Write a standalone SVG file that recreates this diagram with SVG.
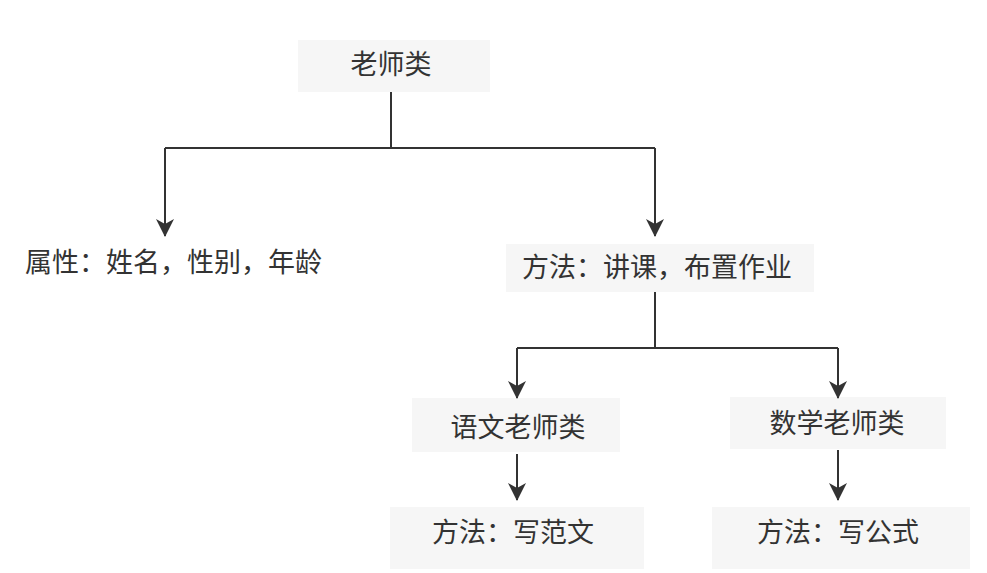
<svg xmlns="http://www.w3.org/2000/svg" width="987" height="573" viewBox="0 0 987 573">
<style>
.bg{fill:#f6f6f6}
.t{font-family:"Liberation Serif","Noto Sans CJK SC",serif;font-size:27px;fill:#333;dominant-baseline:central}
.c{stroke:#333;stroke-width:2;fill:none}
</style>
<defs>
<marker id="ah" markerUnits="userSpaceOnUse" markerWidth="20" markerHeight="18" refX="18" refY="9" orient="auto" viewBox="0 0 20 18">
<path d="M1,0 L6,9 L1,18 L19,9 Z" fill="#333"/>
</marker>
</defs>
<rect width="987" height="573" fill="#fff"/>
<g id="n-teacher"><rect class="bg" x="298" y="40" width="192" height="52"/><text class="t" x="391" y="65" text-anchor="middle">老师类</text></g>
<g id="n-attr"><text class="t" x="25" y="263">属性：姓名，性别，年龄</text></g>
<g id="n-method"><rect class="bg" x="506" y="244" width="308" height="48"/><text class="t" x="522" y="268">方法：讲课，布置作业</text></g>
<g id="n-chinese"><rect class="bg" x="412" y="398" width="208" height="54"/><text class="t" x="518" y="428" text-anchor="middle">语文老师类</text></g>
<g id="n-math"><rect class="bg" x="730" y="397" width="216" height="52"/><text class="t" x="837" y="424" text-anchor="middle">数学老师类</text></g>
<g id="n-essay"><rect class="bg" x="390" y="507" width="254" height="62"/><text class="t" x="432" y="533">方法：写范文</text></g>
<g id="n-formula"><rect class="bg" x="712" y="507" width="258" height="62"/><text class="t" x="757" y="533">方法：写公式</text></g>
<g id="connectors">
<path class="c" d="M391,92 V148 M165,148 H655"/>
<path class="c" d="M165,148 V236" marker-end="url(#ah)"/>
<path class="c" d="M655,148 V236" marker-end="url(#ah)"/>
<path class="c" d="M655,292 V348 M517,348 H838"/>
<path class="c" d="M517,348 V398" marker-end="url(#ah)"/>
<path class="c" d="M838,348 V398" marker-end="url(#ah)"/>
<path class="c" d="M517,454 V500" marker-end="url(#ah)"/>
<path class="c" d="M838,450 V500" marker-end="url(#ah)"/>
</g>
</svg>
